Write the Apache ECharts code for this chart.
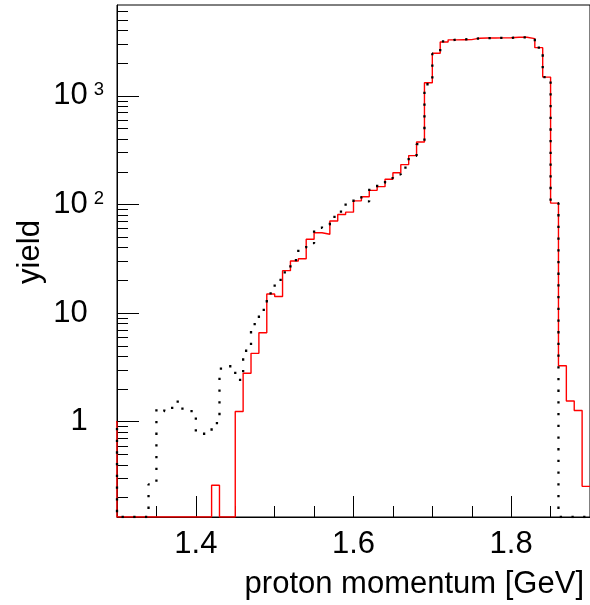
<!DOCTYPE html>
<html><head><meta charset="utf-8">
<script src="https://cdn.jsdelivr.net/npm/echarts@6/dist/echarts.min.js"></script>
<style>html,body{margin:0;padding:0;background:#fff}#c{width:590px;height:605px}</style>
</head><body><div id="c"></div><script>
// histogram binning (bin lower edge of first bin, bin width) in GeV
const binStart = 1.29;
const binWidth = 0.01;
// red (solid) histogram yields, one per bin from 1.29 to 1.90
const redYield = [1.0,
  0,0,0,0,0,0,0,0,0,0,0,0,
  0.26, 0,0,
  1.24,2.79,4.26,6.6,15.0,14.2,24.6,30.2,31.7,47.9,
  55,53.2,70.5,81,85,108,118,135,146,171,
  196,233,282,376,1323,2466,3133,3280,3290,3300,
  3400,3410,3415,3420,3430,3465,3465,3370,2780,1490,
  103,3.28,1.55,1.27,0.254];
// black (dotted) histogram yields, same bins
const blackYield = [0.95,
  0,0,0,0,
  0.265,1.32,1.25,1.53,1.32,1.25,0.775,0.775,0.97,3.08,
  3.24,2.43,4.5,7.9,10.7,15.2,20.2,23.7,30.7,40,
  44,61,65,77,86,103,117,107,144,158,
  175,189,219,281,359,1280,2450,3180,3300,3320,
  3330,3380,3400,3410,3420,3420,3460,3450,3380,2780,
  1490,103,0,0,0,0];
const xRange = [1.3, 1.9];
const yRange = [0.1326, 6870];
const xMajorTicks = [1.4, 1.6, 1.8];
const xMinorTicks = [1.35, 1.45, 1.5, 1.55, 1.65, 1.7, 1.75, 1.85];
const yMajorTicks = [1, 10, 100, 1000];
const yMinorTicks = [0.2,0.3,0.4,0.5,0.6,0.7,0.8,0.9,
  2,3,4,5,6,7,8,9, 20,30,40,50,60,70,80,90,
  200,300,400,500,600,700,800,900, 2000,3000,4000,5000,6000];
const yTickLabels = {1: '{b|1}{g|}', 10: '{b|10}{g|}', 100: '{b|10}{s|2}', 1000: '{b|10}{s|3}'};
const xTitle = 'proton momentum [GeV]';
const yTitle = 'yield';

const FONT = '"Liberation Sans", Arial, Helvetica, sans-serif';

function toSteps(vals) {
  const pts = vals.map((v, i) => [+(binStart + i * binWidth).toFixed(4), v > 0 ? v : yRange[0]]);
  pts.push([+(binStart + vals.length * binWidth).toFixed(4), pts[pts.length - 1][1]]);
  return pts;
}

const chart = echarts.init(document.getElementById('c'), null, {renderer: 'canvas'});
const axisLineStyle = {color: '#000', width: 1};
chart.setOption({
  animation: false,
  backgroundColor: '#fff',
  grid: {left: 117, top: 5, width: 476.4, height: 512, show: true, borderColor: '#000', borderWidth: 1, backgroundColor: 'transparent'},
  xAxis: [
    {type: 'value', min: xRange[0], max: xRange[1], gridIndex: 0,
     axisLine: {show: true, lineStyle: axisLineStyle},
     axisTick: {show: true, inside: true, length: 21, lineStyle: axisLineStyle, customValues: xMajorTicks},
     axisLabel: {show: true, customValues: xMajorTicks, margin: 12, fontSize: 31, lineHeight: 31, fontFamily: FONT, color: '#000',
       formatter: v => v.toFixed(1)},
     splitLine: {show: false}},
    {type: 'value', min: xRange[0], max: xRange[1], gridIndex: 0, position: 'bottom',
     axisLine: {show: false},
     axisTick: {show: true, inside: true, length: 11, lineStyle: axisLineStyle, customValues: xMinorTicks},
     axisLabel: {show: false}, splitLine: {show: false}}
  ],
  yAxis: [
    {type: 'log', logBase: 10, min: yRange[0], max: yRange[1], gridIndex: 0,
     axisLine: {show: true, lineStyle: axisLineStyle},
     axisTick: {show: true, inside: true, length: 22, lineStyle: axisLineStyle, customValues: yMajorTicks},
     axisLabel: {show: true, customValues: yMajorTicks, margin: 13, color: '#000',
       formatter: v => yTickLabels[Math.round(v)] || '',
       rich: {
         b: {fontSize: 31, lineHeight: 31, fontFamily: FONT, color: '#000'},
         s: {fontSize: 18.5, lineHeight: 8, verticalAlign: 'top', fontFamily: FONT, color: '#000', padding: [0, 0, 0, 6]},
         g: {width: 16.3, fontSize: 17}
       }},
     splitLine: {show: false}},
    {type: 'log', logBase: 10, min: yRange[0], max: yRange[1], gridIndex: 0, position: 'left',
     axisLine: {show: false},
     axisTick: {show: true, inside: true, length: 11, lineStyle: axisLineStyle, customValues: yMinorTicks},
     axisLabel: {show: false}, splitLine: {show: false}}
  ],
  graphic: [
    {type: 'text', x: 584, y: 584, style: {text: xTitle, fontSize: 31, fontFamily: FONT, fill: '#000', align: 'right', verticalAlign: 'middle'}},
    {type: 'text', x: 30, y: 252, rotation: Math.PI / 2, style: {text: yTitle, fontSize: 31, fontFamily: FONT, fill: '#000', align: 'center', verticalAlign: 'middle'}}
  ],
  series: [
    {type: 'line', name: 'red', xAxisIndex: 0, yAxisIndex: 0, step: 'end', showSymbol: false, symbol: 'none', clip: true,
     lineStyle: {color: '#ff0000', width: 1.4}, data: toSteps(redYield), z: 2},
    {type: 'line', name: 'black', xAxisIndex: 0, yAxisIndex: 0, step: 'end', showSymbol: false, symbol: 'none', clip: true,
     lineStyle: {color: '#000', width: 2.3, type: [2.3, 9.4], cap: 'butt'}, data: toSteps(blackYield), z: 3}
  ]
});
</script></body></html>
